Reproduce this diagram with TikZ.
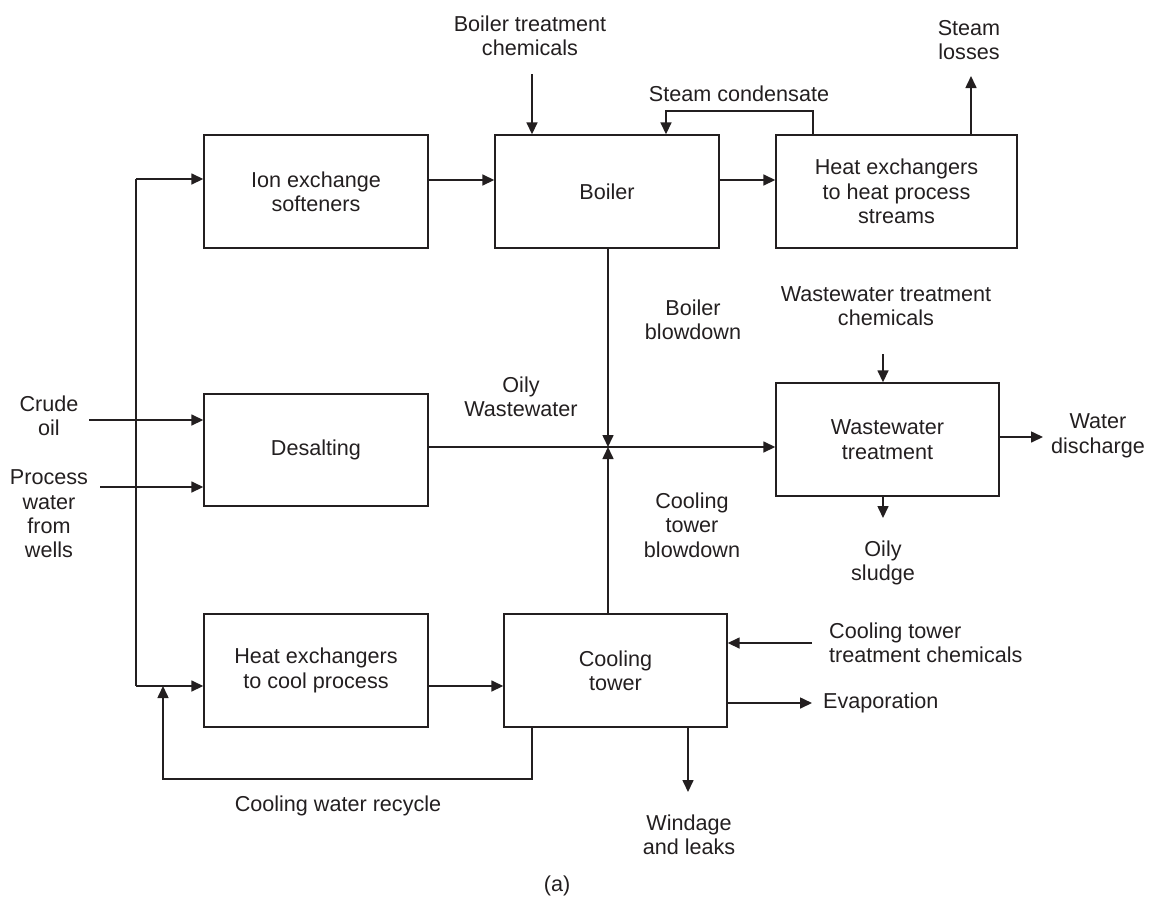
\documentclass[tikz,border=0pt]{standalone}
\usepackage{fontspec}
\setmainfont{Liberation Sans}
\usetikzlibrary{arrows.meta}
\definecolor{ink}{HTML}{231F20}
\begin{document}
\begin{tikzpicture}[x=1pt,y=-1pt,
  every node/.style={font=\fontsize{21.6}{24.4}\selectfont, text=ink, inner sep=0pt},
  box/.style={draw=ink, line width=1.4pt, minimum width=224pt, minimum height=113pt, align=center},
  lbl/.style={align=center},
  conn/.style={draw=ink, line width=1.6pt},
  arr/.style={conn, -{Triangle[length=12pt,width=11pt]}}]
\useasboundingbox (0,0) rectangle (1151,898);
% boxes
\node[box] (ion) at (316,191.5) {Ion exchange\\softeners};
\node[box] (boiler) at (607,191.5) {Boiler};
\node[box, minimum width=241pt] (hxh) at (896.5,191.5) {Heat exchangers\\to heat process\\streams};
\node[box, minimum height=112pt] (des) at (316,450) {Desalting};
\node[box] (hxc) at (316,670.5) {Heat exchangers\\to cool process};
\node[box, minimum width=223pt] (ct) at (615.5,670.5) {Cooling\\tower};
\node[box, minimum width=223pt] (wwt) at (887.5,439.5) {Wastewater\\treatment};
% labels
\node[lbl] (lcrude) at (49,416) {Crude\\oil};
\node[lbl] (lproc) at (49,514) {Process\\water\\from\\wells};
\node[lbl] (lbtc) at (530,36) {Boiler treatment\\chemicals};
\node[lbl] (lsc) at (739,94) {Steam condensate};
\node[lbl] (lsl) at (969,40) {Steam\\losses};
\node[lbl] (lbb) at (693,320) {Boiler\\blowdown};
\node[lbl] (lowm) at (521,397) {Oily\\Wastewater};
\node[lbl] (lctb) at (692,525) {Cooling\\tower\\blowdown};
\node[lbl] (lwtc) at (886,306) {Wastewater treatment\\chemicals};
\node[lbl] (lwd) at (1098,436) {Water\\discharge};
\node[lbl] (los) at (883,563) {Oily\\sludge};
\node[lbl, align=left, anchor=west] (lctc) at (829,643) {Cooling tower\\treatment chemicals};
\node[lbl, anchor=west] (levap) at (823,703) {Evaporation};
\node[lbl] (lwin) at (689,835) {Windage\\and leaks};
\node[lbl] (lcwr) at (338,806) {Cooling water recycle};
\node[lbl] (cap) at (557,886) {(a)};
% coordinates
\coordinate (lc1) at (136,179);
\coordinate (lc2) at (136,686);
\coordinate (crude) at (89,420);
\coordinate (proc) at (100,487);
\coordinate (btc) at (532,74);
\coordinate (sc1) at (813,111);
\coordinate (sc2) at (666,111);
\coordinate (sl) at (971,76);
\coordinate (junc) at (608,447);
\coordinate (wtc) at (883,354);
\coordinate (sludge) at (883,518);
\coordinate (wd) at (1043,437);
\coordinate (ctc) at (812,643);
\coordinate (evap) at (812,703);
\coordinate (wind) at (688,792);
\coordinate (rc1) at (532,779);
\coordinate (rc2) at (163,779);
% connectors
\draw[conn] (lc1) -- (lc2);
\draw[arr] (lc1) -- (lc1 -| ion.west);
\draw[arr] (lc2) -- (lc2 -| hxc.west);
\draw[arr] (crude) -- (crude -| des.west);
\draw[arr] (proc) -- (proc -| des.west);
\draw[arr] ([yshift=11.5pt]ion.east) -- ([yshift=11.5pt]boiler.west);
\draw[arr] ([yshift=11.5pt]boiler.east) -- ([yshift=11.5pt]hxh.west);
\draw[arr] (btc) -- (btc |- boiler.north);
\draw[arr] (sc1 |- hxh.north) -- (sc1) -- (sc2) -- (sc2 |- boiler.north);
\draw[arr] (sl |- hxh.north) -- (sl);
\draw[arr] (junc |- boiler.south) -- (junc);
\draw[arr] (junc |- ct.north) -- (junc);
\draw[arr] (junc -| des.east) -- (junc -| wwt.west);
\draw[arr] (wtc) -- (wtc |- wwt.north);
\draw[arr] (sludge |- wwt.south) -- (sludge);
\draw[arr] (wd -| wwt.east) -- (wd);
\draw[arr] ([yshift=-15.5pt]hxc.east) -- ([yshift=-15.5pt]ct.west);
\draw[arr] (ctc) -- (ctc -| ct.east);
\draw[arr] (evap -| ct.east) -- (evap);
\draw[arr] (wind |- ct.south) -- (wind);
\draw[arr] (rc1 |- ct.south) -- (rc1) -- (rc2) -- (rc2 |- lc2);
\end{tikzpicture}
\end{document}
